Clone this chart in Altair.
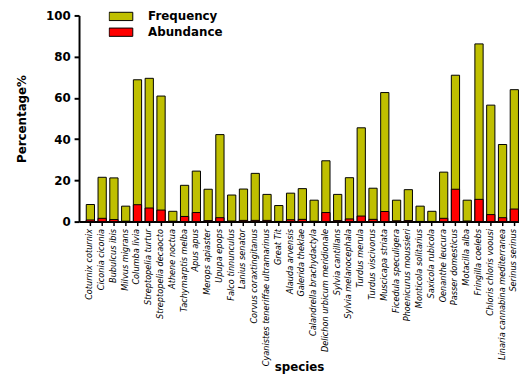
import altair as alt
import pandas as pd

species = [
    "Coturnix coturnix", "Ciconia ciconia", "Bubulcus ibis", "Milvus migrans",
    "Columba livia", "Streptopelia turtur", "Streptopelia decaocto", "Athene noctua",
    "Tachymarptis melba", "Apus apus", "Merops apiaster", "Upupa epops",
    "Falco tinnunculus", "Lanius senator", "Corvus coraxtingitanus",
    "Cyanistes teneriffae ultramarinus", "Great Tit", "Alauda arvensis",
    "Galerida theklae", "Calandrella brachydactyla", "Delichon urbicum meridionale",
    "Sylvia cantillans", "Sylvia melanocephala", "Turdus merula", "Turdus viscivorus",
    "Muscicapa striata", "Ficedula speculigera", "Phoenicurus moussieri",
    "Monticola solitarius", "Saxicola rubicola", "Oenanthe leucura",
    "Passer domesticus", "Motacilla alba", "Fringilla coelebs",
    "Chloris chloris voousi", "Linaria cannabina mediterranea", "Serinus serinus",
]

frequency = [
    8.3, 21.5, 21.2, 7.5, 68.8, 69.5, 60.9, 5.0, 17.6, 24.5, 15.7, 42.2,
    12.9, 15.8, 23.4, 13.2, 7.8, 13.8, 16.0, 10.4, 29.5, 13.2, 21.3, 45.5,
    16.2, 62.6, 10.4, 15.5, 7.5, 5.0, 24.0, 71.0, 10.4, 86.2, 56.5, 37.4, 64.0,
]

abundance = [
    0.8, 1.6, 1.0, 0.2, 8.2, 6.6, 5.6, 0.2, 2.5, 4.4, 0.5, 1.9,
    0.3, 0.6, 0.6, 0.6, 0.1, 0.9, 1.1, 0.2, 4.4, 0.5, 1.3, 2.7,
    1.1, 4.9, 0.4, 0.5, 0.1, 0.1, 1.6, 15.7, 0.3, 10.8, 3.4, 1.9, 6.1,
]

series = ["Frequency", "Abundance"]
colors = ["#BFBF00", "#FF0000"]
y_ticks = [0, 20, 40, 60, 80, 100]

rows = []
for s, v in zip(species, frequency):
    rows.append({"species": s, "type": "Frequency", "value": v})
for s, v in zip(species, abundance):
    rows.append({"species": s, "type": "Abundance", "value": v})
df = pd.DataFrame(rows)

FONT = "DejaVu Sans"

chart = alt.Chart(df).mark_bar(stroke="black", strokeWidth=1).encode(
    x=alt.X(
        "species:N",
        sort=species,
        scale=alt.Scale(paddingInner=0.3, paddingOuter=0.33, align=0.93),
        axis=alt.Axis(
            title="species",
            labelAngle=-90,
            labelFont=FONT,
            labelFontStyle="italic",
            labelFontSize=8.3,
            labelColor="black",
            labelPadding=3,
            labelLimit=300,
            domainColor="black",
            domainWidth=2,
            tickColor="black",
            tickWidth=1.5,
            tickSize=4,
            titleFont=FONT,
            titleFontSize=12,
            titleFontWeight="bold",
            titleColor="black",
            titleBaseline="alphabetic",
            titleY=151,
        ),
    ),
    y=alt.Y(
        "value:Q",
        stack=None,
        scale=alt.Scale(domain=[0, 100], nice=False),
        axis=alt.Axis(
            title="Percentage%",
            values=y_ticks,
            grid=False,
            labelFont=FONT,
            labelFontWeight="bold",
            labelFontSize=12,
            labelColor="black",
            labelPadding=4,
            domainColor="black",
            domainWidth=2,
            tickColor="black",
            tickWidth=2,
            tickSize=5,
            titleFont=FONT,
            titleFontSize=12,
            titleFontWeight="bold",
            titleColor="black",
            titlePadding=17,
        ),
    ),
    color=alt.Color(
        "type:N",
        scale=alt.Scale(domain=series, range=colors),
        legend=alt.Legend(
            title=None,
            orient="none",
            legendX=30,
            legendY=-6,
            direction="vertical",
            symbolType="M-1,-0.35H1V0.35H-1Z",
            symbolSize=576,
            symbolStrokeColor="black",
            symbolStrokeWidth=1,
            symbolOpacity=1,
            labelFont=FONT,
            labelFontSize=12,
            labelFontWeight="bold",
            labelColor="black",
            labelOffset=15,
            clipHeight=14,
            rowPadding=2,
            padding=0,
        ),
    ),
    order=alt.Order("ord:Q"),
).transform_calculate(
    ord="datum.type == 'Frequency' ? 0 : 1"
).properties(
    width=446,
    height=209,
    padding={"left": 72, "top": 5, "right": 0, "bottom": 157},
    autosize=alt.AutoSizeParams(type="none"),
).configure_view(stroke=None)

chart.save("out.html", embed_options={"renderer": "svg", "actions": False})
